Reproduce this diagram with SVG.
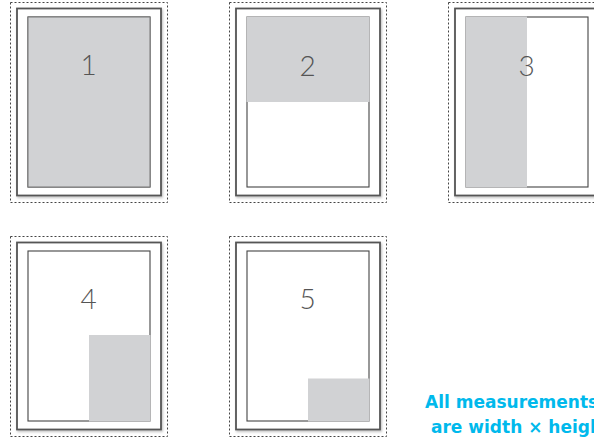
<svg xmlns="http://www.w3.org/2000/svg" width="594" height="438" viewBox="0 0 594 438">
<defs>
<filter id="sh" x="-10%" y="-10%" width="120%" height="120%">
<feDropShadow dx="1" dy="1.5" stdDeviation="1.2" flood-color="#000" flood-opacity="0.25"/>
</filter>
<g id="frame">
<rect class="dot" x="10.5" y="2.5" width="157" height="200"/>
<rect class="outer" x="17" y="8.5" width="144" height="187" filter="url(#sh)"/>
<rect class="inner" x="28" y="17" width="122" height="170"/>
</g>
</defs>
<style>
.dot{fill:none;stroke:#444;stroke-width:1;stroke-dasharray:2 2}
.outer{fill:#fff;stroke:#555;stroke-width:1.8}
.inner{fill:#fff;stroke:#444;stroke-width:1.1}
.fill{fill:#d1d2d4}
.num{font-family:Lato,"Open Sans","DejaVu Sans",sans-serif;font-weight:300;font-size:28px;fill:#555;text-anchor:middle}
.note{font-family:"DejaVu Sans",Verdana,sans-serif;font-weight:700;font-size:17px;fill:#00b9ec}
</style>
<g id="panel1">
<use href="#frame"/>
<rect class="fill" x="28" y="17" width="122" height="170" stroke="#777" stroke-width="1"/>
<text class="num" x="88.5" y="75">1</text>
</g>
<g id="panel2" transform="translate(219,0)">
<use href="#frame"/>
<rect class="fill" x="27.5" y="16.5" width="123" height="85.5"/>
<text class="num" x="88.5" y="76">2</text>
</g>
<g id="panel3" transform="translate(438,0)">
<use href="#frame"/>
<rect class="fill" x="27.5" y="16.5" width="61.5" height="171"/>
<text class="num" x="88.5" y="76">3</text>
</g>
<g id="panel4" transform="translate(0,234)">
<use href="#frame"/>
<rect class="fill" x="89" y="101" width="61.5" height="86.5"/>
<text class="num" x="88.5" y="75">4</text>
</g>
<g id="panel5" transform="translate(219,234)">
<use href="#frame"/>
<rect class="fill" x="89" y="144.5" width="61.5" height="43"/>
<text class="num" x="88.5" y="75">5</text>
</g>
<g id="note">
<text class="note" x="425" y="408">All measurements</text>
<text class="note" x="431" y="433">are width × height</text>
</g>
<g id="connectors"/>
</svg>
